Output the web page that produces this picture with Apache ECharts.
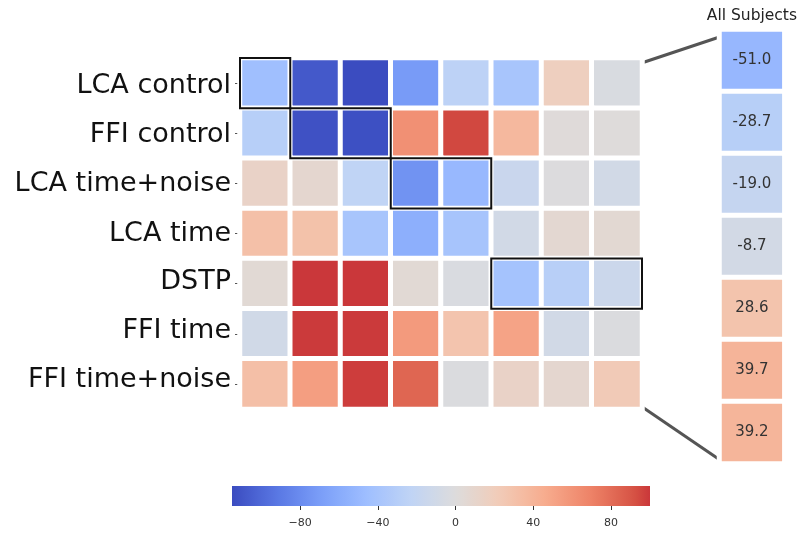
<!DOCTYPE html>
<html><head><meta charset="utf-8">
<script src="https://cdn.jsdelivr.net/npm/echarts@6/dist/echarts.min.js"></script>
<style>html,body{margin:0;padding:0;background:#fff}#c{width:800px;height:534px}</style>
</head><body><div id="c"></div>
<script>
// ---- data ----
const rowLabels = ['LCA control','FFI control','LCA time+noise','LCA time','DSTP','FFI time','FFI time+noise'];
const colLabels = ['c1','c2','c3','c4','c5','c6','c7','c8'];
const rowLCAcontrol   = [-45, -108, -115, -71, -25, -39, 18, -4];
const rowFFIcontrol   = [-29, -112, -113, 62, 95, 37, 2, 1];
const rowLCAtimeNoise = [13, 8, -23, -76, -50, -16, -1, -9];
const rowLCAtime      = [31, 30, -39, -57, -40, -9, 7, 6];
const rowDSTP         = [5, 100, 100, 5, -3, -41, -28, -14];
const rowFFItime      = [-10, 99, 99, 56, 28, 51, -9, -2];
const rowFFItimeNoise = [32, 54, 98, 83, -2, 13, 8, 23];
const allSubjects = [-51.0, -28.7, -19.0, -8.7, 28.6, 39.7, 39.2];
const sideTitle = ['All Subjects'];
// highlighted boxes: [row, first column, last column]
const highlightBoxes = [[0, 0, 0], [1, 1, 2], [2, 3, 4], [4, 5, 7]];
const colorbarTicks = [-80, -40, 0, 40, 80];
const vMin = -115, vMax = 100;

// ---- colormap (coolwarm, centred on 0) ----
const coolwarm = ['#3b4cc0','#5977e3','#7b9ff9','#9ebeff','#c0d4f5','#dddcdc','#f2cbb7','#f7ac8e','#ee8468','#d65244','#b40426'];
function hex2rgb(h){return [parseInt(h.slice(1,3),16),parseInt(h.slice(3,5),16),parseInt(h.slice(5,7),16)];}
const cwRGB = coolwarm.map(hex2rgb);
function cmap(t){
  t = Math.max(0, Math.min(1, t));
  const p = t * (cwRGB.length - 1), i = Math.min(Math.floor(p), cwRGB.length - 2), f = p - i;
  const a = cwRGB[i], b = cwRGB[i+1];
  return 'rgb(' + [0,1,2].map(k => Math.round(a[k] + (b[k]-a[k]) * f)).join(',') + ')';
}
const half = Math.max(-vMin, vMax);
function colorOf(v){ return cmap((v + half) / (2 * half)); }
const N = 64;
const vmColors = [], gradStops = [];
for (let i = 0; i < N; i++) {
  const v = vMin + (vMax - vMin) * i / (N - 1);
  vmColors.push(colorOf(v));
  gradStops.push({offset: i / (N - 1), color: colorOf(v)});
}

const rows = [rowLCAcontrol, rowFFIcontrol, rowLCAtimeNoise, rowLCAtime, rowDSTP, rowFFItime, rowFFItimeNoise];
const mainData = [];
rows.forEach((r, ri) => r.forEach((v, ci) => mainData.push([ci, ri, v])));
const sideData = allSubjects.map((v, i) => [0, i, v]);
const boxData = highlightBoxes.map(b => [b[1], b[2], b[0]]);

const main = {left: 240, top: 58, width: 402, height: 351};
const side = {left: 719.5, top: 29.5, width: 65, height: 434};
const cbar = {left: 232, top: 486, width: 418, height: 20};

// labels drift slightly upward relative to their ticks in the reference
const labelFont = {fontSize: 27, color: '#111', fontFamily: 'DejaVu Sans'};
const rich = {};
rowLabels.forEach((l, i) => {
  const s = Math.round(i * 1.15 - 3);
  rich['r' + i] = Object.assign({padding: [Math.max(0, -2 * s), 0, Math.max(0, 2 * s), 0]}, labelFont);
});

const chart = echarts.init(document.getElementById('c'), null, {renderer: 'canvas'});
chart.setOption({
  animation: false,
  backgroundColor: '#fff',
  grid: [
    Object.assign({}, main, {containLabel: false}),
    Object.assign({}, side, {containLabel: false}),
    Object.assign({}, cbar, {containLabel: false})
  ],
  xAxis: [
    {type: 'category', gridIndex: 0, data: colLabels, show: false},
    {type: 'category', gridIndex: 1, data: sideTitle, position: 'top',
     axisLine: {show: false}, axisTick: {show: false},
     axisLabel: {fontSize: 15.5, color: '#222', fontFamily: 'DejaVu Sans', margin: 6}},
    {type: 'value', gridIndex: 2, min: vMin, max: vMax, position: 'bottom',
     axisLine: {show: false}, splitLine: {show: false},
     axisTick: {show: true, length: 4, lineStyle: {color: '#333', width: 1}, customValues: colorbarTicks},
     axisLabel: {fontSize: 11, color: '#333', fontFamily: 'DejaVu Sans', margin: 12, customValues: colorbarTicks,
       formatter: v => String(v).replace('-', '\u2212')}}
  ],
  yAxis: [
    {type: 'category', gridIndex: 0, data: rowLabels, inverse: true,
     axisLine: {show: false},
     axisTick: {show: true, alignWithLabel: true, length: 5, lineStyle: {color: '#555', width: 1}},
     axisLabel: Object.assign({margin: 9, rich: rich,
       formatter: (v, i) => '{r' + i + '|' + v + '}'}, labelFont)},
    {type: 'category', gridIndex: 1, data: rowLabels, inverse: true, show: false},
    {type: 'value', gridIndex: 2, min: 0, max: 1, show: false}
  ],
  visualMap: {type: 'continuous', show: false, min: vMin, max: vMax, seriesIndex: [0, 1], dimension: 2,
    inRange: {color: vmColors}},
  series: [
    {type: 'heatmap', xAxisIndex: 0, yAxisIndex: 0, data: mainData,
     itemStyle: {borderColor: '#fff', borderWidth: 5}, emphasis: {disabled: true}},
    {type: 'heatmap', xAxisIndex: 1, yAxisIndex: 1, data: sideData,
     itemStyle: {borderColor: '#fff', borderWidth: 5}, emphasis: {disabled: true},
     label: {show: true, formatter: p => p.value[2].toFixed(1), fontSize: 15, color: '#333', fontFamily: 'DejaVu Sans'}},
    {type: 'custom', xAxisIndex: 0, yAxisIndex: 0, data: boxData, z: 10, silent: true,
     renderItem: (params, api) => {
       const p0 = api.coord([api.value(0), api.value(2)]);
       const p1 = api.coord([api.value(1), api.value(2)]);
       const s = api.size([1, 1]);
       return {type: 'rect', shape: {x: p0[0] - s[0]/2, y: p0[1] - s[1]/2, width: p1[0] - p0[0] + s[0], height: s[1]},
               style: {fill: null, stroke: '#111', lineWidth: 2}};
     }},
    {type: 'custom', xAxisIndex: 2, yAxisIndex: 2, data: [[vMin, vMax]], silent: true,
     renderItem: (params, api) => {
       const a = api.coord([api.value(0), 0]);
       const b = api.coord([api.value(1), 1]);
       return {type: 'rect', shape: {x: a[0], y: b[1], width: b[0] - a[0], height: a[1] - b[1]},
               style: {fill: new echarts.graphic.LinearGradient(0, 0, 1, 0, gradStops)}};
     }}
  ],
  graphic: [
    {type: 'line', silent: true, shape: {x1: main.left + main.width + 1, y1: main.top + 4.5, x2: side.left + 3, y2: side.top + 6.5},
     style: {stroke: '#555', lineWidth: 3}},
    {type: 'line', silent: true, shape: {x1: main.left + main.width + 1, y1: main.top + main.height - 1.5, x2: side.left + 2, y2: side.top + side.height - 2.5},
     style: {stroke: '#555', lineWidth: 3}}
  ]
});
</script>
</body></html>
